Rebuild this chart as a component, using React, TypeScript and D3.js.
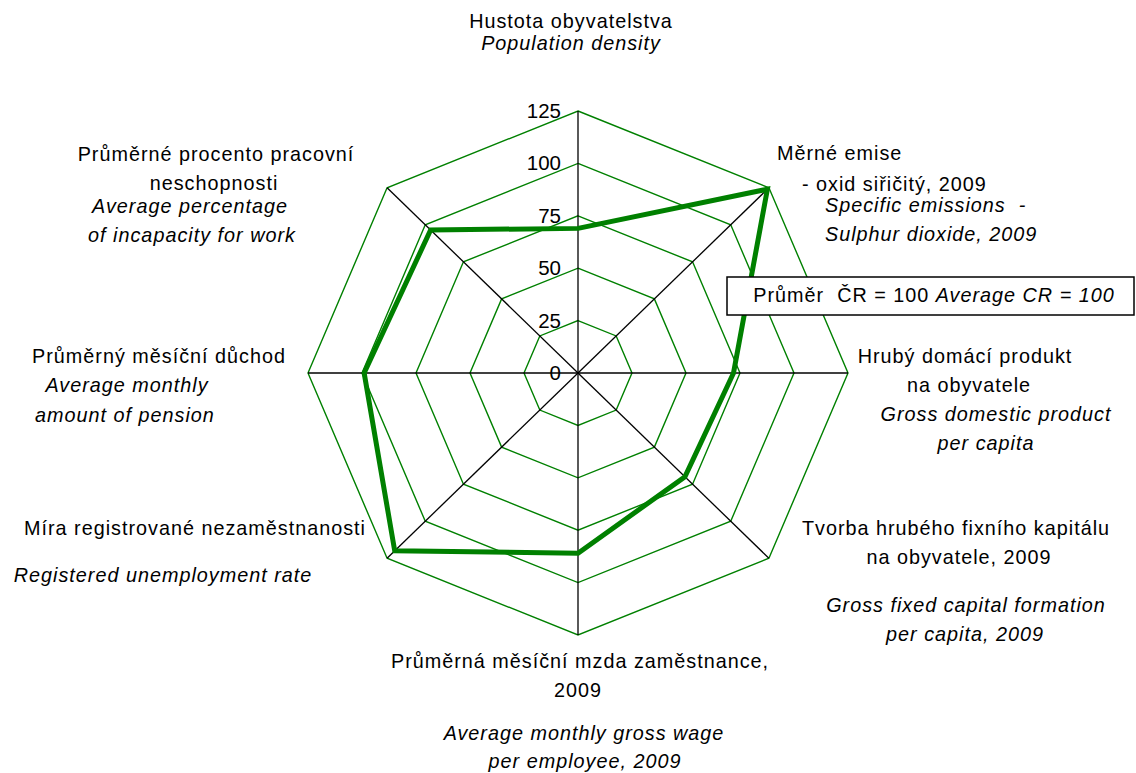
import React from "react";
import * as d3 from "d3";

const axisNames = [
  "Hustota obyvatelstva",
  "Měrné emise - oxid siřičitý, 2009",
  "Hrubý domácí produkt na obyvatele",
  "Tvorba hrubého fixního kapitálu na obyvatele, 2009",
  "Průměrná měsíční mzda zaměstnance, 2009",
  "Míra registrované nezaměstnanosti",
  "Průměrný měsíční důchod",
  "Průměrné procento pracovní neschopnosti",
];
const values = [69, 124, 72, 70, 86, 120, 99, 96.5];
const ticks = [0, 25, 50, 75, 100, 125];
const legendNormal = "Průměr  ČR = 100 ";
const legendItalic = "Average CR = 100";

// label lines: [text, italic, x, baseline y, anchor]
type Line = [string, boolean, number, number, "start" | "middle" | "end"];
const labelLines: Line[] = [
  ["Hustota obyvatelstva", false, 571, 28, "middle"],
  ["Population density", true, 571, 50, "middle"],
  ["Měrné emise", false, 777, 160, "start"],
  ["- oxid siřičitý, 2009", false, 802, 191, "start"],
  ["Specific emissions  -", true, 825, 212, "start"],
  ["Sulphur dioxide, 2009", true, 825, 241, "start"],
  ["Hrubý domácí produkt", false, 965, 363, "middle"],
  ["na obyvatele", false, 969, 392, "middle"],
  ["Gross domestic product", true, 996, 421, "middle"],
  ["per capita", true, 986, 450, "middle"],
  ["Tvorba hrubého fixního kapitálu", false, 956, 535, "middle"],
  ["na obyvatele, 2009", false, 959, 564, "middle"],
  ["Gross fixed capital formation", true, 966, 612, "middle"],
  ["per capita, 2009", true, 965, 641, "middle"],
  ["Průměrná měsíční mzda zaměstnance,", false, 580, 668, "middle"],
  ["2009", false, 578, 697, "middle"],
  ["Average monthly gross wage", true, 584, 740, "middle"],
  ["per employee, 2009", true, 585, 768, "middle"],
  ["Míra registrované nezaměstnanosti", false, 195, 535, "middle"],
  ["Registered unemployment rate", true, 163, 582, "middle"],
  ["Průměrný měsíční důchod", false, 159, 363, "middle"],
  ["Average monthly", true, 127, 392, "middle"],
  ["amount of pension", true, 125, 422, "middle"],
  ["Průměrné procento pracovní", false, 216, 161, "middle"],
  ["neschopnosti", false, 214, 190, "middle"],
  ["Average percentage", true, 190, 213, "middle"],
  ["of incapacity for work", true, 192, 242, "middle"],
];

const W = 1136;
const H = 773;
const cx = 578;
const cy = 373;
const rx = 270;
const ry = 262;
const GREEN = "#008000";
const FONT = "'Liberation Sans', Arial, sans-serif";

export default function App() {
  const n = axisNames.length;
  const r = d3.scaleLinear().domain([0, 125]).range([0, 1]);
  const ang = d3
    .scaleLinear()
    .domain([0, n])
    .range([0, 2 * Math.PI]);
  const pt = (i: number, v: number): [number, number] => [
    cx + Math.sin(ang(i)) * r(v) * rx,
    cy - Math.cos(ang(i)) * r(v) * ry,
  ];
  const line = d3.line().curve(d3.curveLinearClosed);
  const idx = d3.range(n);

  return (
    <div style={{ position: "absolute", left: 0, top: 0 }}>
      <svg width={W} height={H} style={{ display: "block", background: "#fff" }} fontFamily={FONT}>
        {ticks
          .filter((t) => t > 0)
          .map((t) => (
            <path
              key={"g" + t}
              d={line(idx.map((i) => pt(i, t))) || ""}
              fill="none"
              stroke={GREEN}
              strokeWidth={1.4}
            />
          ))}
        {idx.map((i) => {
          const [x, y] = pt(i, 125);
          return <line key={"a" + i} x1={cx} y1={cy} x2={x} y2={y} stroke="#000" strokeWidth={1.3} />;
        })}
        {ticks.map((t) => (
          <text
            key={"t" + t}
            x={cx - 17}
            y={pt(0, t)[1] + 7}
            textAnchor="end"
            fontSize={20.5}
            fill="#000"
          >
            {t}
          </text>
        ))}
        <path
          d={line(values.map((v, i) => pt(i, v))) || ""}
          fill="none"
          stroke={GREEN}
          strokeWidth={5}
          strokeLinejoin="miter"
        />
        {labelLines.map(([t, it, x, y, a], k) => (
          <text
            key={"l" + k}
            x={x}
            y={y}
            textAnchor={a}
            fontSize={19.8}
            letterSpacing={1}
            fontStyle={it ? "italic" : "normal"}
            fill="#000"
            style={{ whiteSpace: "pre" }}
          >
            {t}
          </text>
        ))}
        <rect x={727} y={277} width={407} height={38} fill="#fff" stroke="#000" strokeWidth={1.5} />
        <text
          x={934}
          y={302}
          textAnchor="middle"
          fontSize={19.8}
          letterSpacing={1}
          fill="#000"
          style={{ whiteSpace: "pre" }}
        >
          <tspan>{legendNormal}</tspan>
          <tspan fontStyle="italic">{legendItalic}</tspan>
        </text>
      </svg>
    </div>
  );
}
